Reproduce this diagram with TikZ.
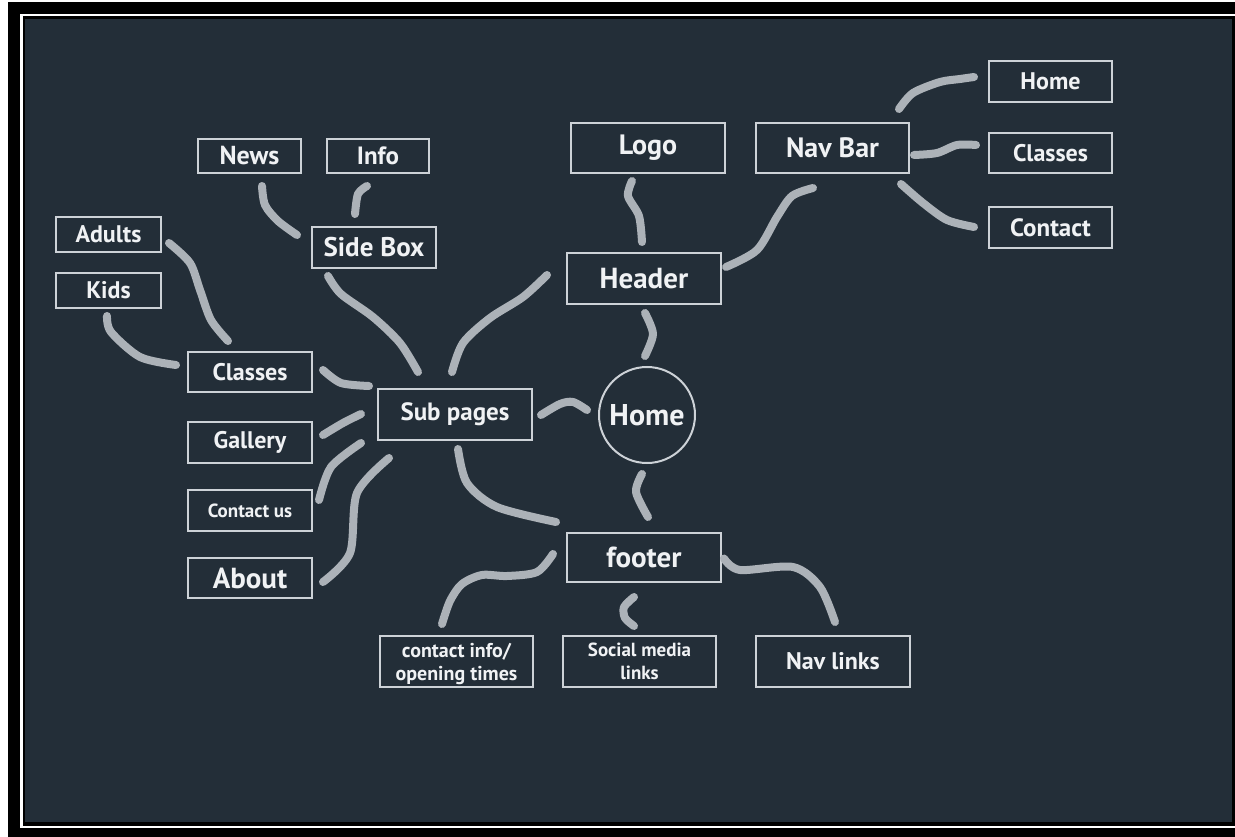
\documentclass[tikz,border=0pt]{standalone}
\usepackage{fontspec}
\setmainfont{PT Sans}
\usepackage{tikz}

\definecolor{bgdark}{RGB}{35,46,56}
\definecolor{boxline}{RGB}{205,210,215}
\definecolor{linkgray}{RGB}{172,178,184}
\definecolor{txt}{RGB}{240,242,244}
\newcommand{\fsz}[1]{\bfseries\fontsize{#1}{#1}\selectfont}

\begin{document}
\begin{tikzpicture}[x=1pt,y=-1pt,
  box/.style={draw=boxline, line width=2pt, fill=bgdark, text=txt, inner sep=0pt, align=center},
  link/.style={draw=linkgray, line width=8pt, line cap=round, line join=round}]
\useasboundingbox (0,0) rectangle (1235,837);
\fill[white] (0,0) rectangle (1235,837);
\fill[black] (8,2) rectangle (1235,837);
\draw[white, line width=2.5pt] (1240,15) -- (21.5,15) -- (21.5,827) -- (1240,827);
\fill[bgdark] (25,19) rectangle (1232,822);

% home and main branches
\node[box, circle, minimum size=96, font=\fsz{30}] (home) at (647,415) {Home};
\node[box, minimum width=154, minimum height=51, font=\fsz{29}] (header) at (644,278.5) {Header};
\node[box, minimum width=154, minimum height=50, font=\fsz{28}] (logo) at (648,148) {Logo};
\node[box, minimum width=153, minimum height=50, font=\fsz{28}] (navbar) at (832.5,148) {Nav Bar};
\node[box, minimum width=123, minimum height=41, font=\fsz{24}] (navhome) at (1050.5,81.5) {Home};
\node[box, minimum width=123, minimum height=40, font=\fsz{24}] (navclasses) at (1050.5,153) {Classes};
\node[box, minimum width=123, minimum height=41, font=\fsz{25}] (navcontact) at (1050.5,227.5) {Contact};
\node[box, minimum width=154, minimum height=51, font=\fsz{25}] (subpages) at (455,414.5) {Sub pages};
\node[box, minimum width=154, minimum height=49, font=\fsz{29}] (footer) at (644,557.5) {footer};

% sub pages
\node[box, minimum width=124, minimum height=41, font=\fsz{27}] (sidebox) at (374,247.5) {Side Box};
\node[box, minimum width=103, minimum height=34, font=\fsz{26}] (news) at (249.5,156) {News};
\node[box, minimum width=102, minimum height=34, font=\fsz{25}] (info) at (378,156) {Info};
\node[box, minimum width=105, minimum height=35, font=\fsz{24}] (adults) at (108.5,234.5) {Adults};
\node[box, minimum width=105, minimum height=35, font=\fsz{24}] (kids) at (108.5,290.5) {Kids};
\node[box, minimum width=124, minimum height=40, font=\fsz{24}] (classes) at (250,372) {Classes};
\node[box, minimum width=124, minimum height=41, font=\fsz{24}] (gallery) at (250,442.5) {Gallery};
\node[box, minimum width=124, minimum height=41, font=\fsz{19}] (contactus) at (250,510.5) {Contact us};
\node[box, minimum width=124, minimum height=40, font=\fsz{29}] (about) at (250,578) {About};

% footer items
\node[box, minimum width=153, minimum height=51, font=\fsz{20}, text depth=0pt] (contactinfo) at (456.5,661.5) {contact info/\\[3pt]opening times};
\node[box, minimum width=153, minimum height=51, font=\fsz{19}] (social) at (639.5,661.5) {Social media\\[4pt]links};
\node[box, minimum width=154, minimum height=51, font=\fsz{24}] (navlinks) at (833,661.5) {Nav links};

% connectors
\draw[link] plot[smooth] coordinates {([shift={(-16,7)}]logo.south) (628,196) (639,216) ([shift={(-2,-10)}]header.north)};
\draw[link] plot[smooth] coordinates {([shift={(4,-11.5)}]header.east) (757,250) (777,217) (792,196) ([shift={(-19.5,14)}]navbar.south)};
\draw[link] plot[smooth] coordinates {([shift={(1,8)}]header.south) (653,334) ([shift={(-2,-10)}]home.north)};
\draw[link] plot[smooth] coordinates {([shift={(-19,-3.5)}]header.west) (523,297) (490,318) (463,343) ([shift={(-3,-16)}]subpages.north)};
\draw[link] plot[smooth] coordinates {([shift={(-46,7)}]sidebox.south) (341,294) (373,317) (400,343) ([shift={(-37,-16)}]subpages.north)};
\draw[link] plot[smooth] coordinates {([shift={(12.5,12)}]news.south) (265,205) (278,221) ([shift={(-14,-12.5)}]sidebox.west)};
\draw[link] plot[smooth] coordinates {([shift={(-11,12)}]info.south) (358,194) ([shift={(-19,-12)}]sidebox.north)};
\draw[link] plot[smooth] coordinates {([shift={(-11,-13)}]navbar.north east) (913,93) (940,82) (960,79) ([shift={(-14,-4.5)}]navhome.west)};
\draw[link] plot[smooth] coordinates {([shift={(4,7)}]navbar.east) (937,153) (957,145) ([shift={(-12,-8)}]navclasses.west)};
\draw[link] plot[smooth] coordinates {([shift={(-9,10)}]navbar.south east) (923,203) (947,220) ([shift={(-14,-0.5)}]navcontact.west)};
\draw[link] plot[smooth] coordinates {([shift={(7,8.5)}]adults.east) (190,263) (200,290) (211,320) ([shift={(-22,-10)}]classes.north)};
\draw[link] plot[smooth] coordinates {([shift={(-1.5,7)}]kids.south) (111,332) (140,357) ([shift={(-11,-7)}]classes.west)};
\draw[link] plot[smooth] coordinates {([shift={(10,-2)}]classes.east) (341,383) ([shift={(-8,-2)}]subpages.north west)};
\draw[link] plot[smooth] coordinates {([shift={(10,-7.5)}]gallery.east) (343,423) ([shift={(-16,-0.5)}]subpages.west)};
\draw[link] plot[smooth] coordinates {([shift={(6,-10.5)}]contactus.east) (331,467) ([shift={(-16,2)}]subpages.south west)};
\draw[link] plot[smooth] coordinates {([shift={(10,4)}]about.east) (350,553) (357,493) ([shift={(12,17)}]subpages.south west)};
\draw[link] plot[smooth] coordinates {([shift={(8,0.5)}]subpages.east) (560,404) (573,402) ([shift={(-11,-5)}]home.west)};
\draw[link] plot[smooth] coordinates {([shift={(-5,10)}]home.south) (636,492) ([shift={(4,-15)}]footer.north)};
\draw[link] plot[smooth] coordinates {([shift={(3,8)}]subpages.south) (467,483) (497,507) ([shift={(-10,-10)}]footer.north west)};
\draw[link] plot[smooth] coordinates {([shift={(-13,-3.5)}]footer.west) (537,572) (507,576) (482,575) (462,584) (450,601) ([shift={(-14.5,-11)}]contactinfo.north)};
\draw[link] plot[smooth] coordinates {([shift={(-10,14)}]footer.south) (624,607) (625,618) ([shift={(-5.5,-9)}]social.north)};
\draw[link] plot[smooth] coordinates {([shift={(2,1)}]footer.east) (740,570) (793,567) (820,587) ([shift={(2,-13)}]navlinks.north)};
\end{tikzpicture}
\end{document}
